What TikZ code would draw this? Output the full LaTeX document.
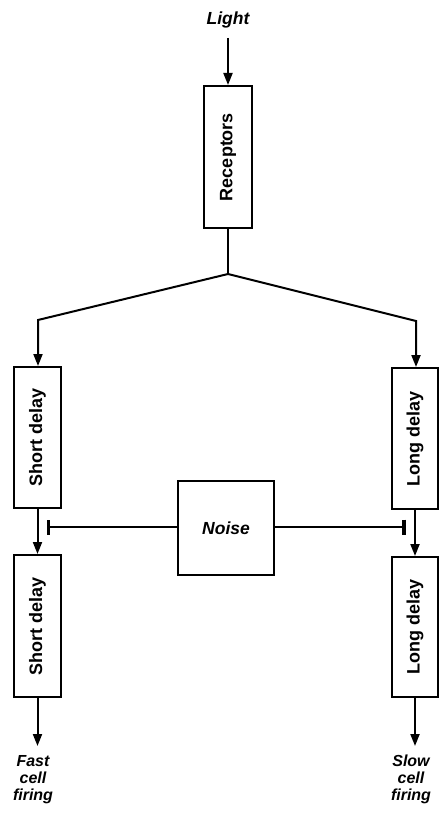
\documentclass[tikz,border=0pt]{standalone}
\usepackage{fontspec}
\setmainfont{Liberation Sans}
\usetikzlibrary{arrows.meta}
\begin{document}
\begin{tikzpicture}[x=1pt,y=-1pt,
  line width=2pt,
  box/.style={draw, line width=2pt, inner sep=0pt, minimum width=#1},
  box/.default=48pt,
  lab/.style={font=\fontsize{18}{18}\selectfont\bfseries, rotate=90},
  itl/.style={font=\fontsize{17.5}{15}\selectfont\bfseries\itshape, align=center, inner sep=0pt},
  outl/.style={font=\fontsize{16}{17}\selectfont\bfseries\itshape, align=center, inner sep=0pt},
  arr/.style={-{Triangle[length=12pt,width=9pt]}},
  inh/.style={-{Bar[width=15pt,line width=3.5pt]}}]
\useasboundingbox (0,0) rectangle (439,813);
% nodes
\node[itl, anchor=base] (light) at (228,25) {Light};
\node[box, minimum height=142pt] (rec) at (228,157) {};
\node[lab] at (rec) {Receptors};
\node[box=47pt, minimum height=141pt] (s1) at (37.5,437.5) {};
\node[lab] at (s1) {Short delay};
\node[box=46pt, minimum height=141pt] (l1) at (415,438.5) {};
\node[lab] at (l1) {Long delay};
\node[box=96pt, minimum height=94pt] (noise) at (226,528) {};
\node[itl] at (noise) {Noise};
\node[box=47pt, minimum height=142pt] (s2) at (37.5,626) {};
\node[lab] at (s2) {Short delay};
\node[box=46pt, minimum height=140pt] (l2) at (415,627) {};
\node[lab] at (l2) {Long delay};
\node[outl, anchor=north] (fast) at (33,754) {Fast\\cell\\firing};
\node[outl, anchor=north] (slow) at (411,754) {Slow\\cell\\firing};
% coordinates
\coordinate (j) at (228,274);
\coordinate (jl) at (38,320);
\coordinate (jr) at (416,321);
\coordinate (bl) at (46.5,527);
\coordinate (br) at (405.5,527);
% connectors
\draw[arr] (light.south |- 0,38) -- (rec.north);
\draw (rec.south) -- (j);
\draw[arr] (j) -- (jl) -- (jl |- s1.north);
\draw[arr] (j) -- (jr) -- (jr |- l1.north);
\draw[arr] (s1.south) -- (s2.north);
\draw[arr] (l1.south) -- (l2.north);
\draw[inh] (noise.west |- bl) -- (bl);
\draw[inh] (noise.east |- br) -- (br);
\draw[arr] (s2.south) -- (s2.south |- 0,746) coordinate (fe);
\draw[arr] (l2.south) -- (l2.south |- 0,746) coordinate (se);
\end{tikzpicture}
\end{document}
